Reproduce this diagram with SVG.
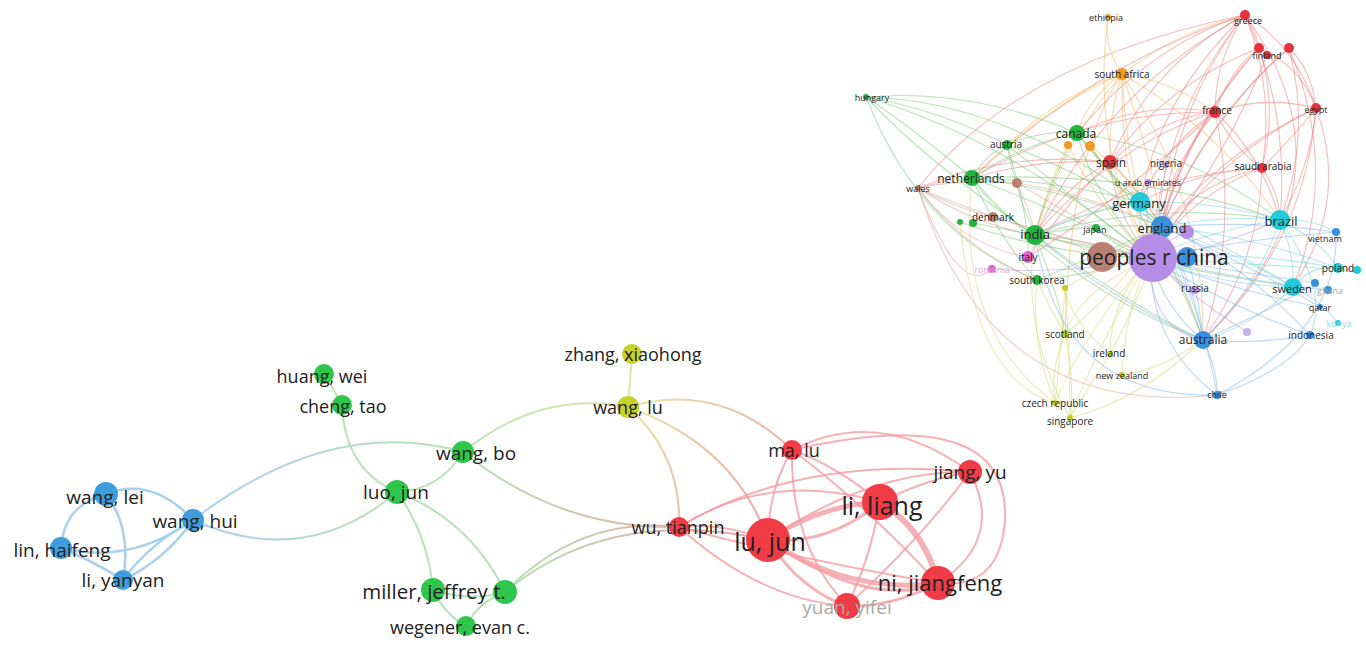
<svg xmlns="http://www.w3.org/2000/svg" width="1366" height="651" viewBox="0 0 1366 651">
<style>
text{font-family:"Open Sans","Noto Sans","DejaVu Sans",sans-serif;fill:#222;text-anchor:middle;dominant-baseline:central}
.s18{font-size:18px}.s19{font-size:19px}.s20{font-size:20.5px}.s22{font-size:22px}.s24{font-size:25px}
.c9{font-size:9px}.c10{font-size:10px}.c11{font-size:11px}.c12{font-size:12px}.c13{font-size:13px}
.faint{fill:#aaa}
path{fill:none;stroke-linecap:round}
#country-links path{stroke-width:1.1;stroke-opacity:.5}
.kr{stroke:#ee7a7a}.ko{stroke:#f3b35c}.kg{stroke:#74c874}.kb{stroke:#d9a096}.kp{stroke:#b895e3}
.kc{stroke:#6fd0df}.kl{stroke:#7ab2e6}.ky{stroke:#d4d86a}
.ab{stroke:#a9d1ee;stroke-width:2.5}.ag{stroke:#b7e3b7;stroke-width:2}.ay{stroke:#e3e4a6;stroke-width:2}
.ar{stroke:#f29ea3;stroke-opacity:.8}
.nb{fill:#3d9ddd}.ng{fill:#2fc74b}.ny{fill:#c8d02a}.nr{fill:#ef3c47}
.cr{fill:#e6323e}.co{fill:#f39a1f}.cg{fill:#22b43e}.cb{fill:#b88072}.cp{fill:#b68de6}
.cc{fill:#22c9d8}.cl{fill:#3a90d9}.cm{fill:#e25fd0}.cy{fill:#c6cc22}
</style>
<defs>
<linearGradient id="gBG1" gradientUnits="userSpaceOnUse" x1="193" y1="520" x2="463" y2="452"><stop offset="0" stop-color="#a9d1ee"/><stop offset="1" stop-color="#b7e3b7"/></linearGradient>
<linearGradient id="gBG2" gradientUnits="userSpaceOnUse" x1="193" y1="520" x2="397" y2="492"><stop offset="0" stop-color="#a9d1ee"/><stop offset="1" stop-color="#b7e3b7"/></linearGradient>
<linearGradient id="gGY" gradientUnits="userSpaceOnUse" x1="463" y1="452" x2="628" y2="407"><stop offset="0" stop-color="#b7e3b7"/><stop offset="1" stop-color="#e3e4a6"/></linearGradient>
<linearGradient id="gGR" gradientUnits="userSpaceOnUse" x1="463" y1="452" x2="768" y2="540"><stop offset="0" stop-color="#b7e3b7"/><stop offset="1" stop-color="#f29ea3"/></linearGradient>
<linearGradient id="gGR2" gradientUnits="userSpaceOnUse" x1="505" y1="592" x2="768" y2="530"><stop offset="0" stop-color="#b7e3b7"/><stop offset="1" stop-color="#f29ea3"/></linearGradient>
<linearGradient id="gYR" gradientUnits="userSpaceOnUse" x1="628" y1="407" x2="792" y2="530"><stop offset="0" stop-color="#e3e4a6"/><stop offset="1" stop-color="#f29ea3"/></linearGradient>
</defs>

<!-- country co-authorship map: links -->
<g id="country-links">
<g class="kr">
<path d="M1245,15 Q1165,110 1150,258"/><path d="M1245,15 Q1215,60 1215,112"/><path d="M1245,15 Q1150,65 1110,162"/>
<path d="M1245,15 Q1175,105 1162,227"/><path d="M1245,15 Q1295,45 1316,108"/><path d="M1245,15 Q1255,28 1259,48"/>
<path d="M1245,15 Q1275,90 1262,168"/><path d="M1245,15 Q1105,90 1035,235"/><path d="M1245,15 Q1160,95 1140,202"/>
<path d="M1245,15 Q1290,110 1280,220"/><path d="M1245,15 Q1100,60 972,178"/><path d="M1245,15 Q1150,45 1077,133"/>
<path d="M1245,15 Q1365,180 1203,340"/><path d="M1245,15 Q1020,60 918,188"/>
<path d="M1259,48 Q1185,130 1150,258"/><path d="M1259,48 Q1230,70 1215,112"/><path d="M1259,48 Q1190,120 1162,227"/>
<path d="M1259,48 Q1300,65 1316,108"/><path d="M1259,48 Q1278,105 1262,168"/><path d="M1259,48 Q1165,85 1110,162"/>
<path d="M1289,48 Q1195,130 1150,258"/><path d="M1289,48 Q1312,70 1316,108"/><path d="M1289,48 Q1312,135 1280,220"/>
<path d="M1289,48 Q1205,120 1162,227"/><path d="M1289,48 Q1340,170 1293,287"/><path d="M1267,55 Q1230,150 1150,258"/>
<path d="M1215,112 Q1165,170 1150,258"/><path d="M1215,112 Q1160,118 1110,162"/><path d="M1215,112 Q1175,160 1162,227"/>
<path d="M1215,112 Q1165,145 1140,202"/><path d="M1215,112 Q1115,145 1035,235"/><path d="M1215,112 Q1265,95 1316,108"/>
<path d="M1215,112 Q1235,150 1262,168"/><path d="M1215,112 Q1145,100 1077,133"/><path d="M1215,112 Q1090,110 972,178"/>
<path d="M1215,112 Q1240,225 1203,340"/><path d="M1215,112 Q1262,155 1280,220"/><path d="M1215,112 Q1120,200 1028,257"/>
<path d="M1316,108 Q1210,160 1150,258"/><path d="M1316,108 Q1295,135 1262,168"/><path d="M1316,108 Q1225,150 1162,227"/>
<path d="M1316,108 Q1350,200 1293,287"/><path d="M1316,108 Q1305,245 1203,340"/><path d="M1316,108 Q1310,170 1280,220"/>
<path d="M1262,168 Q1190,195 1150,258"/><path d="M1262,168 Q1205,180 1162,227"/><path d="M1262,168 Q1145,175 1035,235"/>
<path d="M1262,168 Q1280,195 1280,220"/><path d="M1262,168 Q1200,170 1140,202"/><path d="M1262,168 Q1260,260 1203,340"/>
<path d="M1110,162 Q1115,215 1150,258"/><path d="M1110,162 Q1065,185 1035,235"/><path d="M1110,162 Q1040,158 972,178"/>
<path d="M1110,162 Q1010,150 918,188"/><path d="M1110,162 Q1135,185 1162,227"/><path d="M1110,162 Q1070,200 1028,257"/>
</g>
<g class="ko">
<path d="M1108,17 Q1103,45 1122,74"/><path d="M1108,17 Q1090,150 1150,258"/><path d="M1122,74 Q1120,170 1150,258"/>
<path d="M1122,74 Q1090,95 1077,133"/><path d="M1122,74 Q1150,150 1162,227"/><path d="M1122,74 Q1065,140 1035,235"/>
<path d="M1122,74 Q1108,118 1110,162"/><path d="M1122,74 Q1125,140 1140,202"/><path d="M1122,74 Q1170,80 1215,112"/>
<path d="M1122,74 Q1180,30 1245,15"/><path d="M1122,74 Q1040,110 972,178"/><path d="M1122,74 Q1060,95 1007,145"/>
<path d="M1122,74 Q1205,200 1203,340"/><path d="M1122,74 Q1220,130 1280,220"/><path d="M1122,74 Q1070,150 1065,334"/>
<path d="M1068,145 Q1100,210 1150,258"/><path d="M1090,146 Q1125,190 1150,258"/><path d="M1090,146 Q1130,175 1162,227"/>
<path d="M1068,145 Q1045,190 1035,235"/><path d="M1090,146 Q1160,230 1203,340"/>
</g>
<g class="kg">
<path d="M866,97 Q970,88 1077,133"/><path d="M866,97 Q915,130 972,178"/><path d="M866,97 Q930,165 1035,235"/>
<path d="M866,97 Q1010,140 1150,258"/><path d="M866,97 Q940,110 1007,145"/><path d="M866,97 Q920,235 1037,280"/>
<path d="M866,97 Q1000,100 1140,202"/>
<path d="M1077,133 Q1095,200 1150,258"/><path d="M1077,133 Q1050,180 1035,235"/><path d="M1077,133 Q1020,145 972,178"/>
<path d="M1077,133 Q1040,130 1007,145"/><path d="M1077,133 Q1112,175 1162,227"/><path d="M1077,133 Q1100,165 1140,202"/>
<path d="M1077,133 Q1170,240 1203,340"/><path d="M1077,133 Q1190,150 1280,220"/>
<path d="M1007,145 Q1070,195 1150,258"/><path d="M1007,145 Q985,155 972,178"/><path d="M1007,145 Q1015,190 1035,235"/>
<path d="M1007,145 Q1090,175 1162,227"/><path d="M1007,145 Q1030,220 1028,257"/>
<path d="M972,178 Q1060,210 1150,258"/><path d="M972,178 Q995,212 1035,235"/><path d="M972,178 Q1070,190 1162,227"/>
<path d="M972,178 Q1055,180 1140,202"/><path d="M972,178 Q1070,290 1203,340"/><path d="M972,178 Q1140,170 1280,220"/>
<path d="M972,178 Q1000,240 1037,280"/>
<path d="M1035,235 Q1090,240 1150,258"/><path d="M1035,235 Q1100,222 1162,227"/><path d="M1035,235 Q1085,212 1140,202"/>
<path d="M1035,235 Q1120,300 1203,340"/><path d="M1035,235 Q1160,200 1280,220"/><path d="M1035,235 Q1060,300 1065,334"/>
<path d="M1035,235 Q1180,270 1293,287"/>
<path d="M973,223 Q1060,240 1150,258"/><path d="M960,222 Q1050,255 1150,258"/><path d="M1037,280 Q1090,275 1150,258"/>
<path d="M1037,280 Q1110,250 1162,227"/><path d="M1096,228 Q1120,250 1150,258"/>
</g>
<g class="kb">
<path d="M918,188 Q945,180 972,178"/><path d="M918,188 Q1030,235 1150,258"/><path d="M918,188 Q975,225 1035,235"/>
<path d="M918,188 Q955,208 993,217"/><path d="M918,188 Q965,250 1037,280"/><path d="M918,188 Q960,245 1028,257"/>
<path d="M918,188 Q965,178 1017,183"/><path d="M918,188 Q960,300 992,269"/><path d="M918,188 Q990,420 1217,395"/>
<path d="M1017,183 Q1070,215 1150,258"/><path d="M1017,183 Q1090,195 1162,227"/><path d="M1017,183 Q1030,210 1035,235"/>
<path d="M993,217 Q1070,240 1150,258"/><path d="M1102,257 Q1130,245 1162,227"/><path d="M1102,257 Q1070,240 1035,235"/>
</g>
<g class="kp">
<path d="M1187,232 Q1165,240 1150,258"/><path d="M1195,290 Q1175,280 1150,258"/><path d="M1148,182 Q1145,220 1150,258"/>
<path d="M1166,165 Q1160,210 1150,258"/><path d="M1247,332 Q1195,300 1150,258"/><path d="M1150,258 Q1150,330 1203,340"/>
<path d="M1150,258 Q1200,255 1280,220"/><path d="M992,269 Q1070,275 1150,258"/>
</g>
<g class="kc">
<path d="M1280,220 Q1210,230 1150,258"/><path d="M1280,220 Q1220,215 1162,227"/><path d="M1280,220 Q1210,200 1140,202"/>
<path d="M1280,220 Q1295,255 1293,287"/><path d="M1280,220 Q1312,218 1336,232"/><path d="M1280,220 Q1320,240 1338,268"/>
<path d="M1280,220 Q1255,290 1203,340"/><path d="M1280,220 Q1330,290 1310,335"/>
<path d="M1293,287 Q1215,285 1150,258"/><path d="M1293,287 Q1230,250 1162,227"/><path d="M1293,287 Q1215,240 1140,202"/>
<path d="M1293,287 Q1255,325 1203,340"/><path d="M1293,287 Q1310,265 1338,268"/>
<path d="M1338,268 Q1245,250 1150,258"/><path d="M1338,268 Q1250,235 1162,227"/><path d="M1357,270 Q1260,265 1150,258"/>
<path d="M1140,202 Q1140,235 1150,258"/><path d="M1140,202 Q1150,215 1162,227"/><path d="M1140,202 Q1085,210 1035,235"/>
<path d="M1140,202 Q1185,280 1203,340"/><path d="M1338,323 Q1320,300 1293,287"/>
</g>
<g class="kl">
<path d="M1203,340 Q1165,310 1150,258"/><path d="M1203,340 Q1195,285 1162,227"/><path d="M1203,340 Q1218,370 1217,395"/>
<path d="M1217,395 Q1150,345 1150,258"/><path d="M1217,395 Q1205,320 1162,227"/><path d="M1310,335 Q1225,305 1150,258"/>
<path d="M1310,335 Q1255,345 1203,340"/><path d="M1320,307 Q1230,290 1150,258"/><path d="M1336,232 Q1240,240 1150,258"/>
<path d="M1336,232 Q1250,220 1162,227"/><path d="M1187,257 Q1200,300 1203,340"/><path d="M1315,283 Q1230,270 1150,258"/>
<path d="M1328,290 Q1240,280 1150,258"/><path d="M1203,340 Q1110,300 1035,235"/><path d="M1203,340 Q1290,300 1315,283"/>
<path d="M1217,395 Q1060,400 1035,235"/><path d="M1310,335 Q1240,260 1162,227"/><path d="M1320,307 Q1240,260 1162,227"/>
<path d="M1217,395 Q1290,370 1310,335"/><path d="M1217,395 Q1340,330 1336,232"/>
</g>
<g class="ky">
<path d="M1065,334 Q1080,290 1150,258"/><path d="M1065,334 Q1120,290 1162,227"/><path d="M1065,334 Q1048,305 1037,280"/>
<path d="M1065,334 Q1050,370 1055,403"/><path d="M1065,334 Q1075,380 1070,418"/><path d="M1110,354 Q1110,300 1150,258"/>
<path d="M1110,354 Q1145,290 1162,227"/><path d="M1122,375 Q1125,310 1150,258"/><path d="M1122,375 Q1160,370 1203,340"/>
<path d="M1055,403 Q1085,330 1150,258"/><path d="M1070,418 Q1100,340 1150,258"/><path d="M1070,418 Q1140,400 1203,340"/>
<path d="M1055,403 Q1030,340 1037,280"/><path d="M1065,288 Q1100,265 1150,258"/><path d="M1070,418 Q1020,330 1035,235"/>
<path d="M1055,403 Q955,330 972,178"/><path d="M1070,418 Q1090,385 1110,354"/><path d="M1055,403 Q1060,360 1065,288"/>
<path d="M1070,418 Q1070,350 1065,288"/><path d="M1110,354 Q1070,320 1065,288"/><path d="M1055,403 Q975,380 960,222"/>
</g>
</g>

<!-- country co-authorship map: nodes -->
<g id="country-nodes">
<g id="c-greece"><circle class="cr" cx="1245" cy="15" r="5"/><text class="c9" x="1248" y="20">greece</text></g>
<g id="c-finland"><circle class="cr" cx="1259" cy="48" r="5"/><circle class="cr" cx="1267" cy="55" r="4"/><circle class="cr" cx="1289" cy="48" r="5"/><text class="c9" x="1267" y="55">finland</text></g>
<g id="c-ethiopia"><circle class="co" cx="1108" cy="17" r="3"/><text class="c9" x="1106" y="17">ethiopia</text></g>
<g id="c-south-africa"><circle class="co" cx="1122" cy="74" r="6"/><text class="c10" x="1122" y="74">south africa</text></g>
<g id="c-egypt"><circle class="cr" cx="1316" cy="108" r="5"/><text class="c9" x="1316" y="109">egypt</text></g>
<g id="c-france"><circle class="cr" cx="1215" cy="112" r="6"/><text class="c10" x="1217" y="110">france</text></g>
<g id="c-hungary"><circle class="cg" cx="866" cy="97" r="3"/><text class="c9" x="872" y="97">hungary</text></g>
<g id="c-canada"><circle class="co" cx="1068" cy="145" r="4"/><circle class="co" cx="1090" cy="146" r="5"/><circle class="cg" cx="1077" cy="133" r="8"/><text class="c12" x="1076" y="133">canada</text></g>
<g id="c-austria"><circle class="cg" cx="1007" cy="145" r="5"/><text class="c10" x="1006" y="144">austria</text></g>
<g id="c-spain"><circle class="cr" cx="1110" cy="162" r="7"/><text class="c12" x="1111" y="162">spain</text></g>
<g id="c-nigeria"><circle class="cp" cx="1166" cy="165" r="3"/><text class="c10" x="1166" y="163">nigeria</text></g>
<g id="c-saudi-arabia"><circle class="cr" cx="1262" cy="168" r="5"/><text class="c10" x="1263" y="166">saudi arabia</text></g>
<g id="c-netherlands"><circle class="cb" cx="1017" cy="183" r="5"/><circle class="cg" cx="972" cy="178" r="8"/><text class="c12" x="971" y="178">netherlands</text></g>
<g id="c-wales"><circle class="cb" cx="918" cy="188" r="3"/><text class="c9" x="918" y="188">wales</text></g>
<g id="c-uae"><circle class="cp" cx="1148" cy="182" r="3"/><text class="c9" x="1148" y="182">u arab emirates</text></g>
<g id="c-germany"><circle class="cc" cx="1140" cy="202" r="10"/><text class="c13" x="1139" y="203">germany</text></g>
<g id="c-brazil"><circle class="cc" cx="1280" cy="220" r="10"/><text class="c13" x="1281" y="221">brazil</text></g>
<g id="c-denmark"><circle class="cg" cx="960" cy="222" r="3"/><circle class="cg" cx="973" cy="223" r="4"/><circle class="cb" cx="993" cy="217" r="5"/><text class="c10" x="993" y="217">denmark</text></g>
<g id="c-japan"><circle class="cg" cx="1096" cy="228" r="4"/><text class="c9" x="1095" y="229">japan</text></g>
<g id="c-england"><circle class="cl" cx="1162" cy="227" r="11"/><circle class="cp" cx="1187" cy="232" r="7"/><text class="c13" x="1162" y="228">england</text></g>
<g id="c-india"><circle class="cg" cx="1035" cy="235" r="10"/><text class="c13" x="1035" y="234">india</text></g>
<g id="c-vietnam"><circle class="cl" cx="1336" cy="232" r="4"/><text class="c9" x="1325" y="238">vietnam</text></g>
<g id="c-peoples-r-china"><circle class="cb" cx="1102" cy="257" r="15"/><circle class="cp" cx="1153" cy="258" r="24"/><circle class="cl" cx="1187" cy="257" r="10"/><text x="1154" y="257" style="font-size:21px">peoples r china</text></g>
<g id="c-italy"><circle class="cm" cx="1028" cy="257" r="6"/><text class="c10" x="1028" y="257">italy</text></g>
<g id="c-romania"><circle class="cm" cx="992" cy="269" r="4"/><text class="c9" x="992" y="269" style="fill:#e6a8dc">romania</text></g>
<g id="c-poland"><circle class="cc" cx="1338" cy="268" r="5"/><circle class="cc" cx="1357" cy="270" r="4"/><text class="c10" x="1338" y="268">poland</text></g>
<g id="c-south-korea"><circle class="cg" cx="1037" cy="280" r="5"/><circle class="cy" cx="1065" cy="288" r="3"/><text class="c10" x="1037" y="280">south korea</text></g>
<g id="c-russia"><circle class="cp" cx="1195" cy="290" r="4"/><text class="c10" x="1195" y="288">russia</text></g>
<g id="c-sweden"><circle class="cc" cx="1293" cy="287" r="9"/><circle class="cl" cx="1315" cy="283" r="4"/><text class="c11" x="1292" y="288">sweden</text></g>
<g id="c-ghana"><circle class="cl" cx="1328" cy="290" r="4"/><text class="c9 faint" x="1330" y="290">ghana</text></g>
<g id="c-qatar"><circle class="cl" cx="1320" cy="307" r="3"/><text class="c9" x="1320" y="307">qatar</text></g>
<g id="c-kenya"><circle class="cc" cx="1338" cy="323" r="3"/><text class="c9" x="1339" y="323" style="fill:#9ad8e0">kenya</text></g>
<g id="c-purple-small"><circle class="cp" cx="1247" cy="332" r="4" opacity=".7"/></g>
<g id="c-indonesia"><circle class="cl" cx="1310" cy="335" r="4"/><text class="c10" x="1311" y="335">indonesia</text></g>
<g id="c-australia"><circle class="cl" cx="1203" cy="340" r="9"/><text class="c12" x="1203" y="339">australia</text></g>
<g id="c-scotland"><circle class="cy" cx="1065" cy="334" r="4"/><text class="c10" x="1065" y="334">scotland</text></g>
<g id="c-ireland"><circle class="cy" cx="1110" cy="354" r="3"/><text class="c10" x="1109" y="353">ireland</text></g>
<g id="c-new-zealand"><circle class="cy" cx="1122" cy="375" r="3"/><text class="c9" x="1122" y="375">new zealand</text></g>
<g id="c-chile"><circle class="cl" cx="1217" cy="395" r="4"/><text class="c9" x="1217" y="394">chile</text></g>
<g id="c-czech-republic"><circle class="cy" cx="1055" cy="403" r="3"/><text class="c10" x="1055" y="403">czech republic</text></g>
<g id="c-singapore"><circle class="cy" cx="1070" cy="418" r="3"/><text class="c10" x="1070" y="421">singapore</text></g>
</g>

<!-- author co-authorship map: links -->
<g id="author-links">
<path class="ab" d="M106,494 Q152,476 193,520"/>
<path class="ab" d="M106,494 Q64,505 61,548"/>
<path class="ab" d="M106,494 Q132,528 123,580"/>
<path class="ab" d="M61,548 Q95,562 123,580"/>
<path class="ab" d="M61,548 Q130,565 193,520"/>
<path class="ab" d="M123,580 Q148,545 193,520"/>
<path class="ab" d="M123,580 Q165,560 193,520"/>
<path d="M193,520 Q330,415 463,452" stroke="url(#gBG1)" stroke-width="2"/>
<path d="M193,520 Q305,570 397,492" stroke="url(#gBG2)" stroke-width="2"/>
<path class="ag" d="M324,374 Q334,390 342,405"/>
<path class="ag" d="M342,405 Q345,470 397,492"/>
<path class="ag" d="M397,492 Q440,490 463,452"/>
<path class="ag" d="M397,492 Q428,535 433,590"/>
<path class="ag" d="M397,492 Q470,520 505,592"/>
<path class="ag" d="M433,590 Q470,602 505,592"/>
<path class="ag" d="M433,590 Q445,615 466,626"/>
<path class="ag" d="M505,592 Q478,602 466,626"/>
<path d="M463,452 Q560,530 679,527" stroke="url(#gGR)" stroke-width="2"/>
<path d="M505,592 Q580,515 679,527" stroke="url(#gGR2)" stroke-width="2"/>
<path d="M505,592 Q610,505 768,540" stroke="url(#gGR2)" stroke-width="2"/>
<path d="M463,452 Q540,390 628,407" stroke="url(#gGY)" stroke-width="2"/>
<path class="ay" d="M632,354 Q630,380 628,407"/>
<path d="M628,407 Q720,380 792,450" stroke="url(#gYR)" stroke-width="2"/>
<path d="M628,407 Q682,455 679,527" stroke="url(#gYR)" stroke-width="2"/>
<path d="M628,407 Q735,445 768,540" stroke="url(#gYR)" stroke-width="2"/>
<path class="ar" stroke-width="5" d="M768,540 Q820,505 880,502"/>
<path class="ar" stroke-width="3" d="M768,540 Q830,545 880,502"/>
<path class="ar" stroke-width="5" d="M768,540 Q850,595 938,583"/>
<path class="ar" stroke-width="3" d="M768,540 Q870,610 938,583"/>
<path class="ar" stroke-width="6" d="M880,502 Q925,530 938,583"/>
<path class="ar" stroke-width="2" d="M768,540 Q768,490 792,450"/>
<path class="ar" stroke-width="2" d="M768,540 Q722,522 679,527"/>
<path class="ar" stroke-width="3" d="M768,540 Q800,590 847,606"/>
<path class="ar" stroke-width="2" d="M768,540 Q870,470 970,472"/>
<path class="ar" stroke-width="2" d="M880,502 Q930,478 970,472"/>
<path class="ar" stroke-width="2" d="M880,502 Q835,465 792,450"/>
<path class="ar" stroke-width="2" d="M880,502 Q870,560 847,606"/>
<path class="ar" stroke-width="2" d="M938,583 Q1005,540 970,472"/>
<path class="ar" stroke-width="3" d="M938,583 Q890,608 847,606"/>
<path class="ar" stroke-width="2" d="M792,450 Q880,405 970,472"/>
<path class="ar" stroke-width="2" d="M792,450 Q860,500 938,583"/>
<path class="ar" stroke-width="2" d="M792,450 Q790,545 847,606"/>
<path class="ar" stroke-width="2" d="M679,527 Q770,470 880,502"/>
<path class="ar" stroke-width="2" d="M679,527 Q800,560 938,583"/>
<path class="ar" stroke-width="2" d="M679,527 Q800,455 970,472"/>
<path class="ar" stroke-width="2" d="M847,606 Q920,540 970,472"/>
<path class="ar" stroke-width="2" d="M792,450 Q1010,400 1005,520 Q1000,590 938,583"/>
<path class="ar" stroke-width="2" d="M679,527 Q760,600 847,606"/>
</g>

<!-- author co-authorship map: nodes -->
<g id="author-nodes">
<g id="a-wang-lei"><circle class="nb" cx="106" cy="494" r="12"/><text class="s19" x="105" y="497">wang, lei</text></g>
<g id="a-wang-hui"><circle class="nb" cx="193" cy="520" r="11"/><text class="s19" x="195" y="521">wang, hui</text></g>
<g id="a-lin-haifeng"><circle class="nb" cx="61" cy="548" r="11"/><text class="s19" x="62" y="550">lin, haifeng</text></g>
<g id="a-li-yanyan"><circle class="nb" cx="123" cy="580" r="10"/><text class="s19" x="123" y="580">li, yanyan</text></g>
<g id="a-huang-wei"><circle class="ng" cx="324" cy="374" r="10"/><text class="s18" x="322" y="376">huang, wei</text></g>
<g id="a-cheng-tao"><circle class="ng" cx="342" cy="405" r="10"/><text class="s18" x="343" y="406">cheng, tao</text></g>
<g id="a-wang-bo"><circle class="ng" cx="463" cy="452" r="11"/><text class="s19" x="476" y="453">wang, bo</text></g>
<g id="a-luo-jun"><circle class="ng" cx="397" cy="492" r="12"/><text class="s19" x="396" y="492">luo, jun</text></g>
<g id="a-miller-jeffrey-t"><circle class="ng" cx="433" cy="590" r="12"/><circle class="ng" cx="505" cy="592" r="12"/><text class="s20" x="434" y="591">miller, jeffrey t.</text></g>
<g id="a-wegener-evan-c"><circle class="ng" cx="466" cy="626" r="10"/><text class="s18" x="460" y="627">wegener, evan c.</text></g>
<g id="a-zhang-xiaohong"><circle class="ny" cx="632" cy="354" r="10"/><text class="s18" x="633" y="354">zhang, xiaohong</text></g>
<g id="a-wang-lu"><circle class="ny" cx="628" cy="407" r="11"/><text class="s18" x="628" y="407">wang, lu</text></g>
<g id="a-ma-lu"><circle class="nr" cx="792" cy="450" r="10"/><text class="s18" x="794" y="450">ma, lu</text></g>
<g id="a-wu-tianpin"><circle class="nr" cx="679" cy="527" r="10"/><text class="s18" x="678" y="527">wu, tianpin</text></g>
<g id="a-lu-jun"><circle class="nr" cx="768" cy="540" r="22"/><text class="s24" x="770" y="541">lu, jun</text></g>
<g id="a-li-liang"><circle class="nr" cx="880" cy="502" r="18"/><text class="s24" x="882" y="505">li, liang</text></g>
<g id="a-jiang-yu"><circle class="nr" cx="970" cy="472" r="12"/><text class="s19" x="970" y="472">jiang, yu</text></g>
<g id="a-ni-jiangfeng"><circle class="nr" cx="938" cy="583" r="17"/><text class="s22" x="940" y="582">ni, jiangfeng</text></g>
<g id="a-yuan-yifei"><circle class="nr" cx="847" cy="606" r="13"/><text class="s19 faint" x="847" y="607">yuan, yifei</text></g>
</g>
</svg>
